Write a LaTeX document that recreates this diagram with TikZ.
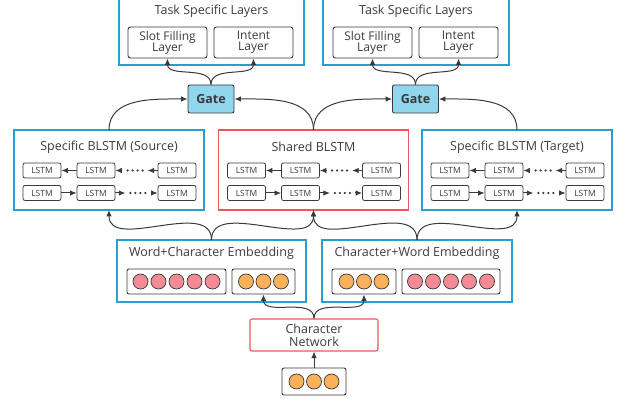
\documentclass[tikz,border=0pt]{standalone}
\usepackage{fontspec}
\setmainfont{Open Sans}
\usetikzlibrary{arrows.meta,calc}
\definecolor{bblue}{RGB}{38,160,212}
\definecolor{bred}{RGB}{236,88,90}
\definecolor{ink}{RGB}{58,58,58}
\definecolor{txt}{RGB}{60,60,60}
\definecolor{gatefill}{RGB}{144,214,236}
\definecolor{pinkc}{RGB}{244,138,148}
\definecolor{orangec}{RGB}{251,176,90}

\tikzset{
  outerbox/.style={rectangle, inner sep=0pt, outer sep=0pt},
  frame/.style={draw=#1, line width=1.1pt},
  title/.style={text=txt, font=\fontsize{12.5}{14}\selectfont, inner sep=0pt},
  layerbox/.style={draw=ink, line width=0.9pt, rounded corners=2.5pt, fill=white,
    minimum width=79pt, minimum height=31pt, inner sep=0pt, align=center,
    text=txt, font=\fontsize{12}{13}\selectfont},
  gatebox/.style={draw=ink, line width=0.9pt, rounded corners=2pt, fill=gatefill,
    minimum width=46pt, minimum height=28pt, inner sep=0pt,
    text=ink, font=\fontsize{12.5}{14}\selectfont\bfseries},
  cell/.style={draw=ink, line width=0.8pt, rounded corners=2pt, fill=white,
    minimum width=38pt, minimum height=15pt, inner sep=0pt,
    text=txt, font=\fontsize{8.5}{9}\selectfont},
  vecbox/.style={draw=ink, line width=0.9pt, rounded corners=2pt, fill=white,
    minimum height=25pt, inner sep=0pt},
  pinkdot/.style={circle, draw=ink, line width=0.7pt, fill=pinkc, minimum size=15pt, inner sep=0pt},
  orangedot/.style={circle, draw=ink, line width=0.7pt, fill=orangec, minimum size=15pt, inner sep=0pt},
  arr/.style={draw=ink, line width=1pt, -{Latex[length=6.5pt,width=5.5pt]}},
  dotline/.style={draw=ink, line width=2.4pt, line cap=round, dash pattern=on 0pt off 5pt},
}

% one BLSTM block: #1 name, #2 left x, #3 title, #4 border colour
\newcommand\blstmblock[4]{%
  \node[outerbox, minimum width=190pt, minimum height=80pt] (#1) at (#2+95,-170) {};
  \draw[frame=#4] (#1.south west) rectangle (#1.north east);
  \node[title] (#1T) at (#2+95,-147) {#3};
  \foreach \r/\y in {A/170.5,B/193}{
    \node[cell] (#1\r1) at (#2+28,-\y) {LSTM};
    \node[cell] (#1\r2) at (#2+82,-\y) {LSTM};
    \node[cell] (#1\r3) at (#2+163,-\y) {LSTM};
  }
  % backward row
  \draw[arr] (#1A2.west) -- (#1A1.east);
  \draw[arr] (#1A3.west) -- ($(#1A3.west)+(-10,0)$);
  \draw[dotline] ($(#1A3.west)+(-15,0)$) -- ($(#1A2.east)+(11,0)$);
  \draw[arr] ($(#1A2.east)+(7,0)$) -- (#1A2.east);
  % forward row
  \draw[arr] (#1B1.east) -- (#1B2.west);
  \draw[arr] (#1B2.east) -- ($(#1B2.east)+(10,0)$);
  \draw[dotline] ($(#1B2.east)+(15,0)$) -- ($(#1B3.west)+(-11,0)$);
  \draw[arr] ($(#1B3.west)+(-7,0)$) -- (#1B3.west);
}

% a vector of circles: #1 name, #2 centre x, #3 count, #4 spacing, #5 dot style, #6 width
\newcommand\vecnode[6]{%
  \node[vecbox, minimum width=#6pt] (#1) at (#2,-281.5) {};
  \foreach \k in {1,...,#3}{
    \node[#5] (#1c\k) at ({#2+(\k-(#3+1)/2)*#4},-281.5) {};
  }
}

\begin{document}
\begin{tikzpicture}[x=1pt,y=1pt]
\path[use as bounding box, clip] (0,0) rectangle (625,-401);

% task specific layers
\node[outerbox, minimum width=185pt, minimum height=75pt] (task1) at (211.5,-27.5) {};
\draw[frame=bblue] (task1.south west) rectangle (task1.north east);
\node[title] (task1T) at (211.5,-11) {Task Specific Layers};
\node[layerbox] (slot1) at (167.5,-42.5) {Slot Filling\\[-2pt]Layer};
\node[layerbox] (int1) at (253.5,-42.5) {Intent\\[-2pt]Layer};

\node[outerbox, minimum width=186pt, minimum height=75pt] (task2) at (416,-27.5) {};
\draw[frame=bblue] (task2.south west) rectangle (task2.north east);
\node[title] (task2T) at (416,-11) {Task Specific Layers};
\node[layerbox] (slot2) at (372.5,-42.5) {Slot Filling\\[-2pt]Layer};
\node[layerbox] (int2) at (458.5,-42.5) {Intent\\[-2pt]Layer};

% gates
\node[gatebox] (g1) at (211,-99) {Gate};
\node[gatebox] (g2) at (415.5,-99) {Gate};

% BLSTM blocks
\blstmblock{src}{14}{Specific BLSTM (Source)}{bblue}
\blstmblock{sh}{218.5}{Shared BLSTM}{bred}
\blstmblock{tg}{422}{Specific BLSTM (Target)}{bblue}

% embeddings
\node[outerbox, minimum width=189pt, minimum height=62pt] (wc) at (211.5,-271) {};
\draw[frame=bblue] (wc.south west) rectangle (wc.north east);
\node[title] (wcT) at (211.5,-253) {Word+Character Embedding};
\vecnode{wcw}{176.5}{5}{18}{pinkdot}{99}
\vecnode{wcc}{263.5}{3}{17.5}{orangedot}{63}

\node[outerbox, minimum width=190pt, minimum height=62pt] (cw) at (417,-271) {};
\draw[frame=bblue] (cw.south west) rectangle (cw.north east);
\node[title] (cwT) at (417,-253) {Character+Word Embedding};
\vecnode{cwc}{364}{3}{17.5}{orangedot}{64}
\vecnode{cww}{451}{5}{18}{pinkdot}{98}

% character network and its input
\node[draw=bred, line width=1.1pt, rounded corners=2pt, minimum width=128pt, minimum height=32pt,
      inner sep=0pt, align=center, text=txt, font=\fontsize{12.5}{14}\selectfont] (cn) at (314,-335)
      {Character\\[-1pt]Network};
\node[vecbox, minimum width=64pt, minimum height=27pt] (inp) at (314,-381.5) {};
\foreach \k in {1,2,3}{
  \node[orangedot] (inpc\k) at ({314+(\k-2)*17.5},-381.5) {};
}

% connectors
\draw[arr] (inp.north) -- (cn.south);
\draw[arr] (cn.north) to[out=90,in=-90] (wcc.south);
\draw[arr] (cn.north) to[out=90,in=-90] (cwc.south);

\draw[arr] (wc.north) to[out=90,in=-90] (src.south);
\draw[arr] (wc.north) to[out=90,in=-90] (sh.south);
\draw[arr] (cw.north) to[out=90,in=-90] (sh.south);
\draw[arr] (cw.north) to[out=90,in=-90] (tg.south);

\draw[arr] (src.north) to[out=90,in=180] (g1.west);
\draw[arr] (sh.north) to[out=90,in=0] (g1.east);
\draw[arr] (sh.north) to[out=90,in=180] (g2.west);
\draw[arr] (tg.north) to[out=90,in=0] (g2.east);

\draw[arr] (g1.north) to[out=90,in=-90] (slot1.south);
\draw[arr] (g1.north) to[out=90,in=-90] (int1.south);
\draw[arr] (g2.north) to[out=90,in=-90] (slot2.south);
\draw[arr] (g2.north) to[out=90,in=-90] (int2.south);
\end{tikzpicture}
\end{document}
